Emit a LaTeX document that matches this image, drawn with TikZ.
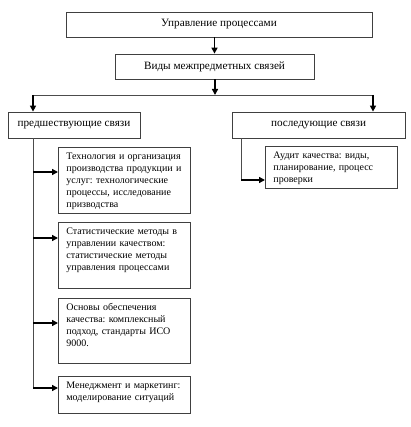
\documentclass[tikz,border=0pt]{standalone}
\usepackage{fontspec}
\setmainfont{Liberation Serif}
\usetikzlibrary{arrows.meta}

\begin{document}
\frenchspacing
\begin{tikzpicture}[
  x=0.75pt, y=-0.75pt,
  font=\fontsize{8.4}{9}\selectfont,
  box/.style={draw=black!75, line width=0.6pt, minimum height=18.75pt,
              inner sep=0pt, align=center, fill=white},
  lbox/.style={draw=black!75, line width=0.6pt, anchor=north west,
               font=\fontsize{7.5}{9}\selectfont,
               text width=87pt, inner xsep=6pt, inner ysep=3pt,
               text height=6pt, align=left, fill=white},
  link/.style={draw=black!70, line width=0.6pt},
  arr/.style={-{Triangle[length=4.5pt, width=4.5pt]}, line width=1.1pt},
]
\useasboundingbox (0,0) rectangle (410,427);

\node[box, minimum width=229.5pt] (mgmt)  at (219,24.5) {Управление процессами};
\node[box, minimum width=149.25pt] (kinds) at (214.5,66.5) {Виды межпредметных связей};

\node[box, minimum width=99pt, minimum height=19.5pt] (prev) at (74,125) {предшествующие связи};
\node[box, minimum width=129.75pt, minimum height=19.5pt] (next) at (318.5,125) {последующие связи};

\node[lbox, text depth=37.5pt] (tech) at (58,147)
  {Технология и организация\\производства продукции и\\услуг: технологические\\процессы, исследование\\призводства};
\node[lbox, text depth=37.5pt] (stat) at (58,222)
  {Статистические методы в\\управлении качеством:\\статистические методы\\управления процессами};
\node[lbox, text depth=36.75pt] (base) at (58,298)
  {Основы обеспечения\\качества: комплексный\\подход, стандарты ИСО\\9000.};
\node[lbox, text depth=15.75pt] (mark) at (58,376)
  {Менеджмент и маркетинг:\\моделирование ситуаций};

\node[lbox, text depth=19.5pt] (audit) at (265,146)
  {Аудит качества: виды,\\планирование, процесс\\проверки};

% top levels
\draw[arr] (kinds.north |- mgmt.south) -- (kinds.north);
\coordinate (split) at (215,95);
\coordinate (jl) at (33,95);
\coordinate (jr) at (373,95);
\draw[arr] (kinds.south -| split) -- (split);
\draw[link] (jl) -- (jr);
\draw[arr] (jl) -- (jl |- prev.north);
\draw[arr] (jr) -- (jr |- next.north);

% left branch
\coordinate (t1) at (33,172);
\coordinate (t2) at (33,238);
\coordinate (t3) at (33,323);
\coordinate (t4) at (33,388);
\draw[link] (t1 |- prev.south) -- (t4);
\draw[arr] (t1) -- (t1 -| tech.west);
\draw[arr] (t2) -- (t2 -| stat.west);
\draw[arr] (t3) -- (t3 -| base.west);
\draw[arr] (t4) -- (t4 -| mark.west);

% right branch
\coordinate (r1) at (241,180);
\draw[link] (r1 |- next.south) -- (r1);
\draw[arr] (r1) -- (r1 -| audit.west);

\end{tikzpicture}
\end{document}
